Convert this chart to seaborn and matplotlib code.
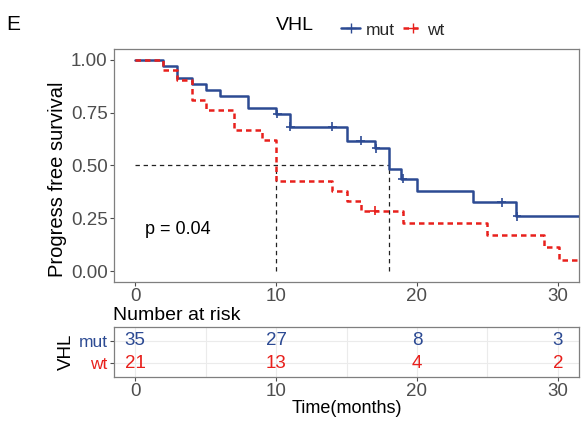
import matplotlib
matplotlib.use("Agg")
import matplotlib.pyplot as plt
from matplotlib.lines import Line2D
import seaborn as sns
import pandas as pd

# ---------------- data ----------------
groups = ["mut", "wt"]
mut_time = [0, 2, 3, 4, 5, 6, 8, 10, 11, 15, 17, 18, 18.9, 20, 24, 27, 32]
mut_surv = [1.0, 0.971, 0.914, 0.886, 0.857, 0.829, 0.771, 0.743, 0.684, 0.618,
            0.582, 0.484, 0.437, 0.379, 0.327, 0.260, 0.260]
wt_time = [0, 2, 3, 4, 5, 7, 9, 10, 14, 15, 16, 19, 25, 29, 30.1, 32]
wt_surv = [1.0, 0.952, 0.905, 0.810, 0.762, 0.667, 0.619, 0.429, 0.381, 0.333,
           0.286, 0.229, 0.170, 0.115, 0.055, 0.055]
mut_cens_time = [10.1, 11, 14, 16, 17.1, 19, 26, 27.1]
mut_cens_surv = [0.743, 0.684, 0.684, 0.618, 0.582, 0.437, 0.327, 0.260]
wt_cens_time = [17]
wt_cens_surv = [0.286]
median_times = [10, 18]
median_level = 0.5
p_text = "p = 0.04"
risk_times = [0, 10, 20, 30]
risk_mut = [35, 27, 8, 3]
risk_wt = [21, 13, 4, 2]
x_ticks = [0, 10, 20, 30]
y_ticks = [0.0, 0.25, 0.5, 0.75, 1.0]
y_ticklabels = ["0.00", "0.25", "0.50", "0.75", "1.00"]

# ---------------- style ----------------
sns.set_theme(style="white")
plt.rcParams["font.family"] = ["Liberation Sans", "DejaVu Sans"]
col = {"mut": "#2C4A93", "wt": "#E8201C"}
tickcol = "#4D4D4D"
framecol = "#7F7F7F"
TICK = 13.5

fig = plt.figure(figsize=(5.84, 4.23), dpi=100)
W, H = 584, 423
def rect(l, t, r, b):
    return [l / W, 1 - b / H, (r - l) / W, (b - t) / H]

ax = fig.add_axes(rect(114, 49, 579, 282))
axr = fig.add_axes(rect(114, 327, 579, 377))

curves = pd.concat([
    pd.DataFrame({"time": mut_time, "surv": mut_surv, "group": "mut"}),
    pd.DataFrame({"time": wt_time, "surv": wt_surv, "group": "wt"}),
])
cens = pd.concat([
    pd.DataFrame({"time": mut_cens_time, "surv": mut_cens_surv, "group": "mut"}),
    pd.DataFrame({"time": wt_cens_time, "surv": wt_cens_surv, "group": "wt"}),
])

# median reference lines
xmin = -1.5
ax.hlines(median_level, 0, max(median_times), colors="#222222", linestyles=(0, (3.5, 3)), linewidth=0.9, zorder=1)
ax.vlines(median_times, 0, median_level, colors="#222222", linestyles=(0, (3.5, 3)), linewidth=0.9, zorder=1)

sns.lineplot(data=curves, x="time", y="surv", hue="group", style="group",
             palette=col, dashes={"mut": "", "wt": (2.2, 1.6)},
             drawstyle="steps-post", estimator=None, sort=False,
             linewidth=1.8, legend=False, ax=ax, zorder=3)
sns.scatterplot(data=cens, x="time", y="surv", hue="group", palette=col,
                marker="+", s=40, linewidth=1.2, legend=False, ax=ax, zorder=4)

ax.set_xlim(xmin, 31.5)
ax.set_ylim(-0.05, 1.05)
ax.set_xticks(x_ticks)
ax.set_yticks(y_ticks)
ax.set_yticklabels(y_ticklabels)
ax.set_xlabel("")
ax.set_ylabel("Progress free survival", fontsize=14.5, color="black")
ax.yaxis.set_label_coords(-0.101, 0.44)
ax.tick_params(axis="both", which="both", direction="out", length=3, width=0.8,
               color=tickcol, labelcolor=tickcol, labelsize=TICK, pad=1.5,
               bottom=True, left=True)
for s in ax.spines.values():
    s.set_color(framecol)
    s.set_linewidth(0.9)
ax.text(0.7, 0.2, p_text, fontsize=13, color="black", ha="left", va="center")

# legend
fig.text(276 / W, 1 - 26 / H, "VHL", fontsize=14, ha="left", va="center", color="black")
handles = [Line2D([], [], color=col[g], marker="+", markersize=7, linewidth=1.8,
                  linestyle="-" if g == "mut" else (0, (2.2, 1.6))) for g in groups]
fig.legend(handles, groups, loc="center", bbox_to_anchor=(393 / W, 1 - 30 / H), ncol=2,
           frameon=False, fontsize=12.5, handlelength=1.1, handletextpad=0.3,
           columnspacing=0.5, borderaxespad=0)
fig.text(6 / W, 1 - 25 / H, "E", fontsize=15, ha="left", va="center", color="black")

# risk table
risk = pd.concat([
    pd.DataFrame({"time": risk_times, "n": risk_mut, "group": "mut", "row": 1}),
    pd.DataFrame({"time": risk_times, "n": risk_wt, "group": "wt", "row": 0}),
])
for _, r in risk.iterrows():
    axr.text(r["time"], r["row"], str(r["n"]), color=col[r["group"]], fontsize=TICK,
             ha="center", va="center")
axr.set_xlim(xmin, 31.5)
axr.set_ylim(-0.62, 1.62)
axr.set_yticks([0, 1])
axr.set_yticklabels(["wt", "mut"])
for lbl, g in zip(axr.get_yticklabels(), ["wt", "mut"]):
    lbl.set_color(col[g])
axr.set_xticks(x_ticks)
axr.set_xticks([5, 15, 25], minor=True)
axr.grid(True, which="both", color="#EBEBEB", linewidth=0.8)
axr.set_axisbelow(True)
axr.tick_params(axis="both", which="major", direction="out", length=3, width=0.8,
                color=tickcol, pad=1.5, bottom=True, left=True)
axr.tick_params(axis="x", labelcolor=tickcol, labelsize=TICK)
axr.tick_params(axis="y", labelsize=12.5)
axr.tick_params(axis="x", which="minor", length=0)
for s in axr.spines.values():
    s.set_color(framecol)
    s.set_linewidth(0.9)
axr.set_ylabel("VHL", fontsize=13.5, color="black", labelpad=3)
axr.set_xlabel("Time(months)", fontsize=13, color="black", labelpad=0)
axr.set_title("Number at risk", fontsize=14, loc="left", pad=5, x=-0.003, color="black")

fig.savefig("out.png", dpi=100)
